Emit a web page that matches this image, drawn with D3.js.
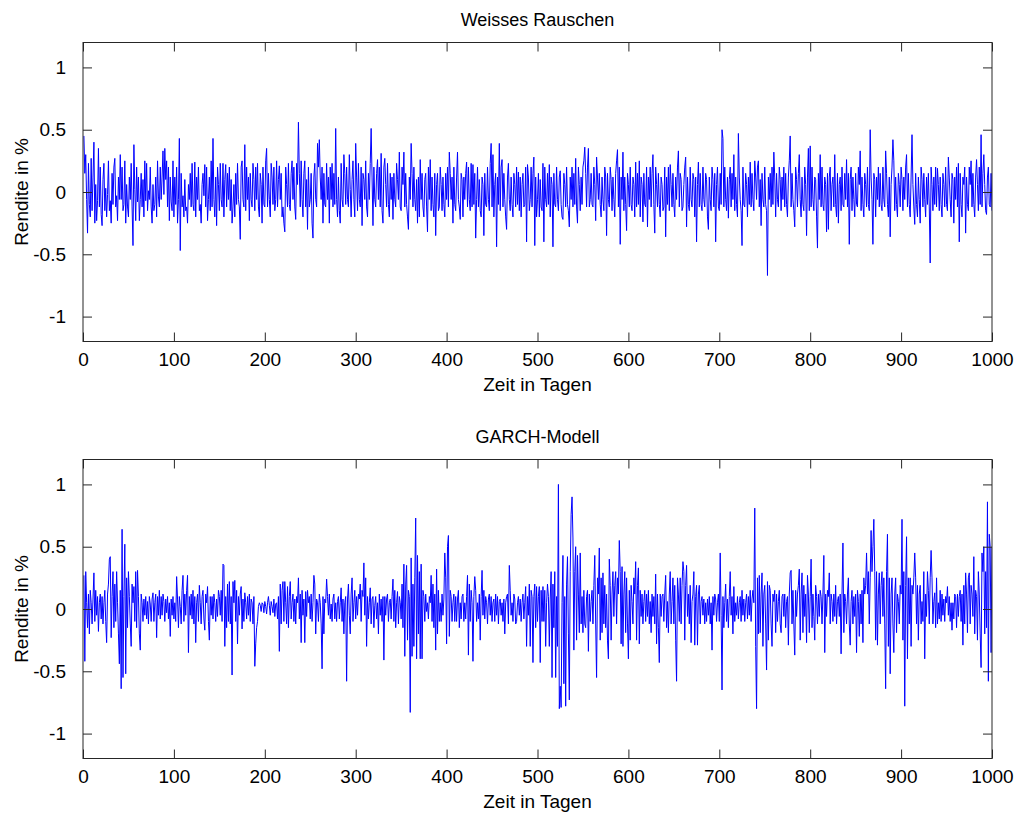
<!DOCTYPE html>
<html><head><meta charset="utf-8">
<script src="https://cdn.jsdelivr.net/npm/d3@7"></script>
<style>body{margin:0;background:#fff}text{font-family:"Liberation Sans",Arial,sans-serif;fill:#000}</style>
</head><body><svg id="c" width="1018" height="813"></svg>
<script>
const xTicks=[0,100,200,300,400,500,600,700,800,900,1000];
const yTicks=[-1,-0.5,0,0.5,1];
const yTickLabels=["-1","-0.5","0","0.5","1"];
const titles=["Weisses Rauschen","GARCH-Modell"];
const xLabel="Zeit in Tagen";
const yLabel="Rendite in %";
// Weisses Rauschen, Tage 1..1000
const whiteNoise=[
.45,.15,.3,-.06,-.33,.23,-.1,-.2,.27,-.15,.12,.4,-.25,.06,-.23,-.07,.35,-.12,.2,-.18,
-.27,.1,.23,-.15,.03,-.2,-.02,.25,-.15,-.07,-.25,.15,-.1,.2,.27,-.12,-.03,-.23,.12,-.06,
.3,-.06,.2,-.15,-.1,.25,-.25,.06,-.12,-.2,.12,-.06,.23,-.12,-.43,.38,.02,-.23,.2,-.08,
.12,-.23,-.06,.15,-.12,.1,-.2,.25,-.07,.23,-.15,.01,-.06,.2,-.12,-.25,.06,-.15,-.1,.12,
-.2,.25,-.04,-.12,.2,-.06,.12,.33,-.02,.35,.1,.25,-.12,.2,-.23,.12,-.08,-.15,.25,-.2,
.12,-.1,.2,-.25,-.06,.43,-.47,.15,-.12,-.03,-.2,.1,-.15,-.12,-.25,.06,-.06,.15,-.12,.23,
-.1,-.15,.24,-.2,.12,-.06,.2,-.15,-.1,-.25,.06,.15,-.03,.22,-.12,.2,-.23,-.06,.12,-.15,
.25,-.12,.43,-.06,-.2,.12,-.27,.2,.06,-.15,.23,-.06,-.12,.23,-.2,.1,.22,-.12,.15,-.06,
.2,-.15,.1,-.25,-.12,.06,-.2,.15,-.1,.23,-.06,-.12,-.38,.2,.25,-.06,-.12,.38,-.15,.2,
-.06,.12,-.23,.15,-.06,-.12,.23,.1,-.15,.2,-.06,.23,-.12,-.2,.15,.06,-.25,.2,-.1,-.12,
.25,.35,-.12,.15,-.06,-.2,.23,.12,-.1,.2,-.15,-.06,.25,-.12,.1,.21,-.06,.15,-.2,-.12,
-.25,-.32,.2,.06,-.12,.23,-.1,-.15,.15,.25,-.06,.2,-.12,-.22,.23,.06,.56,.15,-.12,.25,
-.06,-.2,.15,.25,-.12,.1,-.3,.2,-.12,-.06,.15,-.25,-.37,.12,.23,-.06,-.12,.39,.2,.42,
.12,-.06,.2,-.25,.15,-.1,-.12,.23,-.06,.12,-.25,.2,-.06,.23,-.12,.15,-.1,.51,-.06,-.2,
.12,-.15,-.25,.23,-.06,-.12,.3,.15,-.1,.2,-.06,-.12,.3,.02,-.2,.1,.25,-.06,-.2,.39,
.12,-.15,.23,-.06,-.12,.2,-.27,.15,.1,-.06,.25,-.12,-.2,.15,-.06,.23,.51,.12,-.27,.2,
-.06,-.12,.15,.26,-.06,.2,-.12,.31,-.15,-.25,.2,.27,.06,-.12,.23,-.1,-.2,.15,-.06,.12,
-.22,.15,-.06,-.12,.23,.1,-.06,.32,-.12,-.15,.2,.06,.32,-.12,.15,-.1,-.2,-.3,.12,-.06,
.39,.15,-.12,.2,-.06,-.15,.1,-.25,.12,-.2,.26,-.06,.15,-.12,-.2,.1,.15,-.12,-.32,.2,
-.06,.26,-.15,.12,-.1,-.2,.15,-.35,.06,.15,-.15,-.12,.2,.06,-.15,.12,-.1,-.2,.15,-.06,
.2,-.12,.32,.15,-.06,.12,-.25,.2,-.1,-.15,.12,.32,-.06,-.12,-.22,.15,.1,-.2,.12,-.06,
.15,.24,-.12,.2,-.06,-.15,.23,-.12,.22,-.1,.15,-.37,-.06,.2,-.12,.1,-.15,-.2,.12,.06,
-.35,.15,-.1,-.12,.2,-.06,-.15,.23,.39,-.12,.3,-.2,.06,.15,-.44,.12,-.1,.39,-.15,.2,
.26,-.12,.15,-.06,-.2,-.3,.12,.23,-.06,-.15,.12,-.1,-.2,.15,.06,-.12,.2,-.1,.16,-.15,
.12,-.2,.06,.15,-.12,-.1,.2,-.4,.22,.12,-.15,-.06,.2,-.12,.15,.28,-.43,.12,-.2,-.06,
.15,-.2,.1,-.12,-.15,.23,-.4,.2,-.06,-.12,.15,-.1,.22,-.2,.12,.06,-.44,.15,-.1,-.12,
.2,-.06,-.15,.12,.17,-.1,-.2,-.22,.15,.06,-.12,.2,-.1,-.15,-.28,.12,-.06,.2,-.12,.15,
-.1,.27,-.12,-.25,.2,.06,-.15,.12,-.1,.2,.25,.36,.15,-.12,.2,.35,-.12,-.06,.15,-.1,
-.12,.2,.06,-.23,.28,.12,-.06,.15,-.1,-.2,.12,-.06,-.15,.2,.12,-.35,.15,-.06,-.12,.2,
.1,-.15,.12,-.06,-.2,.15,.25,.34,-.12,.2,-.42,.12,-.06,.32,-.15,.12,-.1,-.31,.15,.06,
-.12,.2,-.1,-.15,.12,.06,-.2,.24,-.12,.15,-.1,.25,-.2,.12,.06,-.24,.15,-.1,-.12,.2,
-.28,.12,-.06,.2,-.12,.15,.3,-.1,-.33,.2,.06,-.12,.15,-.1,-.2,.12,.06,-.15,-.12,.2,
-.36,.12,-.1,.2,-.15,.22,.06,-.12,.15,-.1,-.2,.12,-.06,.2,.33,-.12,.15,.1,-.15,-.12,
.06,.2,.28,-.28,.12,-.1,-.15,.2,-.06,-.12,.15,.1,-.2,.12,-.4,.06,.24,-.12,.15,-.1,
-.15,.2,-.06,-.12,.15,.1,-.2,-.3,.12,-.06,-.15,.2,.1,-.12,.15,-.4,.06,.2,-.12,-.15,
.15,-.1,.5,.43,-.12,.2,-.06,-.15,.12,-.21,.1,.2,-.12,.15,-.06,.3,-.15,.12,-.1,-.2,
.47,.12,-.06,-.15,-.43,.2,-.1,-.12,.15,.06,-.2,.12,-.1,.24,-.12,.15,-.06,-.15,.25,.12,
-.06,.2,.25,-.12,.1,-.27,.15,-.06,-.12,.2,-.1,-.15,-.67,.12,-.06,.15,-.12,.2,-.1,.32,
.12,-.2,.15,-.06,-.12,.2,.1,-.15,.12,-.06,.2,-.12,.15,-.1,-.2,.12,.25,.45,-.12,.15,
-.06,-.15,-.28,.2,.1,-.12,.15,.3,-.06,-.2,.12,-.1,-.15,.2,.06,-.35,.12,.35,-.15,.37,
-.12,.2,-.06,-.15,.12,.1,-.2,-.45,.15,-.06,.3,-.12,.2,-.1,-.15,.12,.06,-.32,.15,-.3,
.12,.2,-.15,.06,.12,-.12,.3,-.1,-.2,.15,-.25,.06,.12,-.15,.2,-.1,-.12,.15,-.06,.26,
-.12,.15,-.42,.1,.2,-.15,.12,-.06,-.2,.15,-.1,-.12,.2,.06,.33,-.15,.12,-.1,-.2,.15,
.06,-.12,.2,-.1,-.15,.5,.12,-.06,-.42,.15,.1,-.2,.12,-.06,.2,-.12,.15,-.1,-.15,.2,
-.06,-.12,.33,.15,-.1,-.2,.12,-.36,.06,.2,.42,.25,-.15,.12,-.1,-.2,.15,.06,-.12,.2,
.1,-.15,.12,-.06,.2,.3,-.12,.15,-.1,-.2,.12,.46,.06,-.12,-.26,.15,-.1,-.2,.12,-.06,
-.25,.2,.1,-.12,.15,-.06,-.2,.12,-.1,.15,-.12,-.57,.2,.06,-.15,.12,-.1,.2,-.12,.19,
.06,-.15,.12,-.1,-.2,.15,.06,-.12,.2,-.1,-.15,.28,.12,-.06,-.2,.15,.1,-.25,.12,-.06,
.2,-.12,.23,-.4,.15,-.1,-.2,.12,.06,.2,-.33,.12,-.1,-.15,.2,.06,.25,-.12,.15,-.1,
-.2,.12,.26,.06,-.15,.2,-.1,.46,-.12,.15,.3,.06,-.15,-.18,.12,.2,-.1,-.12,.15,-.15];
// GARCH-Modell, Tage 1..1000
const garch=[
.27,-.42,.3,.05,-.15,.12,-.2,.15,.05,-.12,.08,.29,-.1,.15,-.05,.1,-.18,.05,.12,-.08,
.1,-.12,.05,.15,-.1,-.27,.12,.2,.4,.42,-.23,.1,.3,-.15,.2,-.1,.3,.05,-.2,-.44,
.15,-.64,.64,-.55,.1,.52,-.52,.25,-.15,.3,.1,-.12,-.3,.2,.05,.18,-.1,.3,-.15,.31,
.1,-.2,-.33,.12,.05,-.1,.08,-.05,.1,-.08,.06,-.12,.1,.04,-.1,.08,.13,-.1,.05,.12,
-.23,.1,-.05,.15,-.08,.1,-.05,.12,.06,-.1,.08,-.03,.1,-.08,.05,-.22,.08,-.05,.1,-.08,
.05,-.1,.26,.08,-.15,.1,.02,-.12,.15,.27,-.1,.12,-.05,.15,.27,-.35,.1,-.05,.12,-.08,
.15,-.12,.1,-.27,.05,.12,-.1,.19,.05,-.12,.1,.15,-.08,-.17,.12,.05,.18,-.1,-.25,.1,
-.05,.1,-.08,.12,.05,-.1,.08,-.06,.15,.1,-.05,.15,-.1,.36,.35,-.3,.1,-.15,.2,-.1,
.22,-.12,.1,-.53,.22,.05,.23,-.1,.15,-.28,.1,-.05,.12,.18,-.16,.08,-.1,.13,.05,-.08,
.1,-.05,.12,-.1,.08,.05,-.12,.1,-.46,-.28,-.15,-.1,.02,.05,.03,-.02,.05,.04,-.03,.06,
.02,-.04,.05,.1,.03,-.05,.06,.02,-.03,.08,-.06,.04,.05,-.08,.1,-.34,.2,-.12,.15,.22,
-.1,.22,.05,-.12,.18,-.15,.1,.22,-.08,.05,.12,-.1,.08,-.12,.1,.05,.25,-.08,.12,-.27,
.15,-.05,.08,-.27,.14,-.06,.15,.05,.1,-.08,.12,-.1,.05,.27,.2,-.2,.08,.05,-.1,.12,
.05,-.12,-.48,.1,-.2,.08,.05,.24,.1,-.05,.12,-.08,.04,-.1,.08,.12,-.08,.05,-.1,.06,
.1,-.08,.05,.17,-.1,.08,-.2,.05,.1,-.58,.08,.2,-.05,-.2,.12,.25,-.1,.05,.15,-.08,
.1,-.05,.12,.08,.2,-.1,.15,.1,.37,-.05,.25,-.3,.1,-.08,.05,.17,-.12,.08,.1,-.15,
.03,.1,-.08,.05,-.2,.12,-.05,.08,-.1,.1,-.41,.1,-.05,.08,.12,-.1,.05,.08,-.08,.1,
.24,-.1,.15,-.15,.05,.14,-.12,.1,.05,-.08,.2,-.15,.36,-.38,.2,.35,-.25,.15,.1,-.83,
.41,-.38,.2,-.3,.25,.73,-.4,.43,-.2,.3,-.4,.36,-.4,.15,.1,-.1,.12,-.02,.05,-.08,
.1,.05,.27,-.1,.2,-.15,.12,-.33,.32,-.2,.15,-.1,.05,-.1,.12,-.05,.08,.45,.25,-.28,
.5,.59,-.22,.15,.1,-.1,.05,.12,-.1,.1,-.1,.08,.15,-.15,.05,-.08,.1,.12,-.1,.05,
-.08,.1,.27,-.37,.2,-.1,.15,.05,-.42,.1,.26,.15,-.1,.05,-.08,.12,-.25,.1,.31,-.05,
.15,-.08,.1,.05,-.12,.08,.12,-.05,.1,-.1,.05,.08,-.1,.12,-.05,.1,-.12,.06,.08,-.05,
.05,-.1,.08,-.2,.05,.1,.12,-.12,.35,.15,-.05,.05,-.1,.12,.08,-.12,-.1,.05,.1,-.05,
.08,-.1,.05,.12,-.08,.05,.18,-.3,.1,-.05,.2,-.3,.15,.1,-.43,.1,.2,-.15,.18,-.1,
.1,.18,-.43,.15,-.1,.18,-.1,.15,-.3,.05,.2,.1,-.3,.08,.3,-.55,.2,-.15,.3,-.55,
.1,-.3,1.0,-.8,-.62,-.79,.05,.43,-.6,.1,-.78,.2,.42,-.2,-.73,.3,.76,.9,.57,-.33,
.3,.5,-.25,.43,.12,-.19,.45,-.12,.1,-.19,.15,-.12,-.15,.1,.15,-.34,.12,-.1,.06,.15,
-.12,.19,.43,-.12,-.55,.25,.12,.49,-.25,.25,-.19,.29,-.12,.19,-.15,.12,-.25,-.4,.4,.19,
-.25,.12,.3,-.06,.19,.3,-.12,.25,.12,.55,.3,-.28,.34,-.3,.12,.3,-.19,.25,-.12,-.4,
.15,-.25,.19,.06,-.12,.25,.12,.38,-.25,.19,.33,-.28,.15,-.06,.12,-.12,.06,.15,-.1,.12,
-.06,.15,-.12,.06,-.19,.12,-.06,.1,-.12,.28,-.28,.12,-.15,-.43,.12,-.06,.1,.12,-.1,.12,
.27,-.15,.06,-.19,.12,.3,-.12,.06,.25,-.12,.19,-.25,-.58,.25,.12,-.1,.25,-.12,.19,.38,
.3,-.25,.19,.35,-.06,.12,-.12,.19,-.27,.06,.12,.3,-.29,.1,.19,-.29,.12,.19,-.12,.06,
.1,-.05,.08,-.12,.05,-.1,.08,-.05,.1,-.12,.05,-.33,.1,-.05,.12,.08,-.1,.05,.12,-.1,
.45,-.05,-.65,.1,-.15,.05,.2,-.1,.08,-.15,.1,.3,-.05,.1,-.2,.18,-.1,.05,-.05,.1,
-.08,.05,.1,-.1,.15,-.05,.08,-.1,.05,.12,-.08,.1,-.05,.15,-.1,.08,.15,.05,.81,-.3,
-.8,.25,-.2,.27,-.19,.12,.29,-.3,.12,.19,-.12,-.49,.22,-.25,.19,.15,-.12,-.3,.12,.06,
.15,-.19,.12,-.1,.06,.15,-.12,-.19,.1,.12,-.06,.12,-.15,.06,.1,-.29,.12,.29,.31,-.12,
.15,-.12,-.37,.15,-.06,.12,.19,.32,-.25,.12,.29,-.19,.19,-.06,.12,-.27,.27,.12,-.19,.1,
.4,-.15,.12,-.06,-.25,.19,.1,-.12,.12,-.06,.15,.1,-.12,.12,.43,-.35,.12,-.06,.15,.1,
.29,-.12,.12,.06,-.1,.12,-.06,.19,-.12,.06,.1,-.06,.12,-.36,.12,.53,-.19,.12,.06,-.12,
.12,.25,-.12,-.29,.06,.15,-.12,.1,-.06,.12,-.35,.15,.06,-.22,.12,-.12,.15,-.27,.25,.12,
.19,.45,.12,.3,-.12,.25,.63,.3,.5,.72,.3,-.25,.3,-.29,.12,.29,-.12,.19,.3,-.06,
.25,-.12,-.64,.3,.6,-.3,.25,-.52,.12,.25,-.12,-.35,.12,.25,-.19,.12,.06,-.12,.19,.12,
.72,-.25,.3,-.78,.19,.58,-.4,.25,-.12,.25,-.3,.19,.12,.25,.45,.25,-.12,.19,-.25,.12,
.19,-.12,.06,-.1,.3,-.4,.12,-.06,.3,.15,-.12,.25,.47,.25,-.12,.06,.13,-.15,.25,-.12,
.05,-.08,.15,-.1,.12,-.05,.08,-.1,.1,.05,.18,-.05,.1,-.1,.05,-.17,.05,-.08,.12,.1,
-.15,.12,-.06,.1,.15,-.1,.12,-.29,.19,-.12,.29,.12,-.19,.25,.29,-.12,.19,.12,-.06,.42,
-.2,.15,.1,-.25,.3,.12,-.2,-.47,.45,.3,.5,-.2,.3,-.15,.86,-.58,.6,.5,-.35,.5];

const series=[whiteNoise,garch];
const panels=[{top:42.5,bottom:341.5},{top:459.5,bottom:758.5}];
const left=83,right=992;
const svg=d3.select("#c");
const axisColor="#262626";
const x=d3.scaleLinear().domain([0,1000]).range([left,right]);

panels.forEach((p,k)=>{
  const y=d3.scaleLinear().domain([-1.2,1.2]).range([p.bottom,p.top]);
  const g=svg.append("g");
  const cid="clip"+k;
  svg.append("clipPath").attr("id",cid).append("rect")
    .attr("x",left).attr("y",p.top).attr("width",right-left).attr("height",p.bottom-p.top);
  const line=d3.line().x((d,i)=>x(i+1)).y(d=>y(d));
  g.append("path").datum(series[k]).attr("clip-path","url(#"+cid+")")
    .attr("fill","none").attr("stroke","#0000ff").attr("stroke-width",1)
    .attr("stroke-linejoin","miter").attr("d",line);
  g.append("rect").attr("x",left).attr("y",p.top).attr("width",right-left).attr("height",p.bottom-p.top)
    .attr("fill","none").attr("stroke",axisColor).attr("stroke-width",1);
  const xb=d3.axisBottom(x).tickValues(xTicks).tickSize(-9).tickFormat(d3.format("d"));
  const xa=g.append("g").attr("transform","translate(0,"+p.bottom+")").call(xb);
  const xt=d3.axisTop(x).tickValues(xTicks).tickSize(-9).tickFormat("");
  const xta=g.append("g").attr("transform","translate(0,"+p.top+")").call(xt);
  const yl=d3.axisLeft(y).tickValues(yTicks).tickSize(-9).tickPadding(17).tickFormat((d,i)=>yTickLabels[i]);
  const ya=g.append("g").attr("transform","translate("+left+",0)").call(yl);
  const yr=d3.axisRight(y).tickValues(yTicks).tickSize(-9).tickFormat("");
  const yra=g.append("g").attr("transform","translate("+right+",0)").call(yr);
  [xa,xta,ya,yra].forEach(a=>{
    a.select(".domain").remove();
    a.selectAll(".tick line").attr("stroke",axisColor);
    a.selectAll("text").attr("fill","#000").style("font-size","19px").attr("font-family","Liberation Sans, Arial, sans-serif");
  });
  xa.selectAll("text").attr("dy",null).attr("y",24);
  g.append("text").attr("x",(left+right)/2).attr("y",p.top-17).attr("text-anchor","middle")
    .style("font-size","18px").text(titles[k]);
  g.append("text").attr("x",(left+right)/2).attr("y",p.bottom+49).attr("text-anchor","middle")
    .style("font-size","19px").text(xLabel);
  g.append("text").attr("transform","translate(28,"+((p.top+p.bottom)/2)+") rotate(-90)")
    .attr("text-anchor","middle").style("font-size","19px").text(yLabel);
});
</script></body></html>
